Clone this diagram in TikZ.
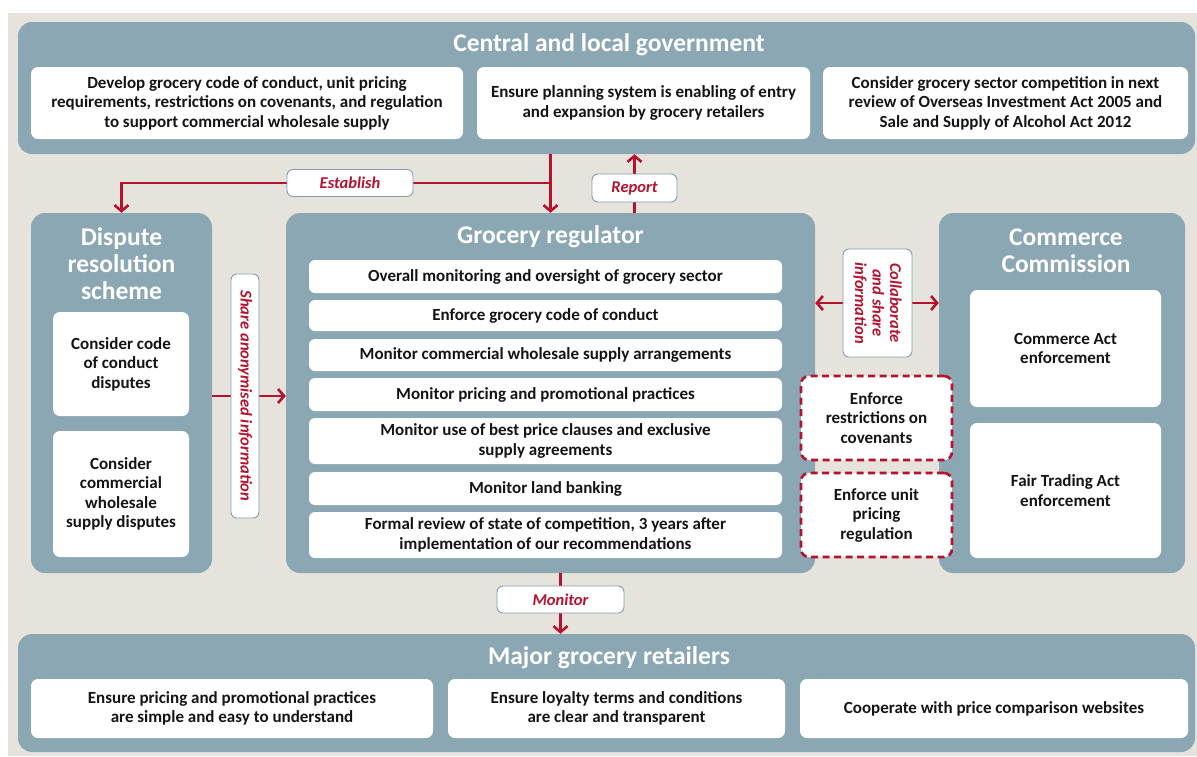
\documentclass[tikz,border=0pt]{standalone}
\usepackage{fontspec}
\setmainfont{Carlito}
\usetikzlibrary{arrows.meta}
\definecolor{bgc}{RGB}{230,227,220}
\definecolor{panelc}{RGB}{138,167,179}
\definecolor{redc}{RGB}{181,18,46}
\definecolor{txt}{RGB}{20,20,20}
\definecolor{lblborder}{RGB}{128,158,172}
\pgfdeclarelayer{front}
\pgfsetlayers{main,front}

\begin{document}
\begin{tikzpicture}[x=1pt,y=-1pt,
  panel/.style={fill=panelc, rounded corners=14pt, inner sep=0pt},
  box/.style={fill=white, rounded corners=7pt, inner sep=1pt, align=center,
    font=\fontsize{17}{19.5}\selectfont\bfseries, text=txt},
  rowbox/.style={box, rounded corners=6pt, minimum width=473},
  ptitle/.style={text=white, font=\fontsize{25.5}{27}\selectfont\bfseries, align=center, inner sep=0pt},
  lbl/.style={fill=white, draw=lblborder, line width=0.9pt, rounded corners=6pt, text=redc,
    font=\fontsize{16.5}{17.5}\selectfont\bfseries\itshape, inner sep=0pt, align=center},
  dbox/.style={box, draw=redc, line width=2.6pt, dash pattern=on 7pt off 4.5pt, rounded corners=8pt},
  conn/.style={draw=redc, line width=2.6pt},
  >={Straight Barb[length=6pt,width=14pt]}
]
\useasboundingbox (0,0) rectangle (1197,756);
\fill[white] (0,0) rectangle (1197,756);
\fill[bgc] (8,13) rectangle (1197,756);

% government panel
\node[panel, minimum width=1177, minimum height=132] (gov) at (606.5,88) {};
\node[ptitle] (govt) at (609,45) {Central and local government};
\node[box, minimum width=432, minimum height=72] (g1) at (247,103)
  {Develop grocery code of conduct, unit pricing\\requirements, restrictions on covenants, and regulation\\to support commercial wholesale supply};
\node[box, minimum width=333, minimum height=72] (g2) at (643.5,103)
  {Ensure planning system is enabling of entry\\and expansion by grocery retailers};
\node[box, minimum width=365, minimum height=72] (g3) at (1005.5,103)
  {Consider grocery sector competition in next\\review of Overseas Investment Act 2005 and\\Sale and Supply of Alcohol Act 2012};

% dispute resolution scheme
\node[panel, minimum width=181, minimum height=360] (disp) at (121.5,393) {};
\node[ptitle] (dispt) at (121.5,264) {Dispute\\resolution\\scheme};
\node[box, minimum width=136, minimum height=104] (d1) at (121,364) {Consider code\\of conduct\\disputes};
\node[box, minimum width=136, minimum height=126] (d2) at (121,494) {Consider\\commercial\\wholesale\\supply disputes};

% grocery regulator
\node[panel, minimum width=529, minimum height=360] (reg) at (550.5,393) {};
\node[ptitle] (regt) at (550.5,237) {Grocery regulator};
\node[rowbox, minimum height=33] (r1) at (545.5,276.5) {Overall monitoring and oversight of grocery sector};
\node[rowbox, minimum height=31] (r2) at (545.5,315.5) {Enforce grocery code of conduct};
\node[rowbox, minimum height=32] (r3) at (545.5,355) {Monitor commercial wholesale supply arrangements};
\node[rowbox, minimum height=33] (r4) at (545.5,394.5) {Monitor pricing and promotional practices};
\node[rowbox, minimum height=46] (r5) at (545.5,441) {Monitor use of best price clauses and exclusive\\supply agreements};
\node[rowbox, minimum height=33] (r6) at (545.5,488.5) {Monitor land banking};
\node[rowbox, minimum height=46] (r7) at (545.5,535) {Formal review of state of competition, 3 years after\\implementation of our recommendations};

% commerce commission
\node[panel, minimum width=246, minimum height=360] (comm) at (1062,393) {};
\node[ptitle] (commt) at (1066,250.5) {Commerce\\Commission};
\node[box, minimum width=191, minimum height=117] (c1) at (1065.5,348.5) {Commerce Act\\enforcement};
\node[box, minimum width=191, minimum height=135] (c2) at (1065.5,490.5) {Fair Trading Act\\enforcement};

% shared enforcement duties
\node[dbox, minimum width=151, minimum height=84] (e1) at (876.5,418) {Enforce\\restrictions on\\covenants};
\node[dbox, minimum width=151, minimum height=84] (e2) at (876.5,515) {Enforce unit\\pricing\\regulation};

% major grocery retailers
\node[panel, minimum width=1177, minimum height=118] (ret) at (606.5,693) {};
\node[ptitle] (rett) at (609,658) {Major grocery retailers};
\node[box, minimum width=402, minimum height=59] (m1) at (232,708.5)
  {Ensure pricing and promotional practices\\are simple and easy to understand};
\node[box, minimum width=337, minimum height=59] (m2) at (616.5,708.5)
  {Ensure loyalty terms and conditions\\are clear and transparent};
\node[box, minimum width=388, minimum height=59] (m3) at (994,708.5)
  {Cooperate with price comparison websites};

% connector labels
\begin{pgfonlayer}{front}
\node[lbl, minimum width=126, minimum height=27] (est) at (350,183) {Establish};
\node[lbl, minimum width=85, minimum height=28] (rep) at (634.5,188) {Report};
\node[lbl, rotate=-90, minimum width=244, minimum height=28] (share) at (245,396) {Share anonymised information};
\node[lbl, rotate=-90, minimum width=108, minimum height=69] (collab) at (877.5,303) {Collaborate\\and share\\information};
\node[lbl, minimum width=127, minimum height=27] (mon) at (560.5,599.5) {Monitor};
\end{pgfonlayer}

% connectors
\coordinate (estj) at (reg.north |- est);
\draw[conn,->] (gov.south -| reg.north) -- (reg.north);
\draw[conn,->] (estj) -| (disp.north);
\draw[conn,->] (reg.north -| rep) -- (gov.south -| rep);
\draw[conn,->] (disp.east |- share) -- (reg.west |- share);
\draw[conn,<->] (reg.east |- collab) -- (comm.west |- collab);
\draw[conn,->] (reg.south -| mon) -- (ret.north -| mon);
\end{tikzpicture}
\end{document}
